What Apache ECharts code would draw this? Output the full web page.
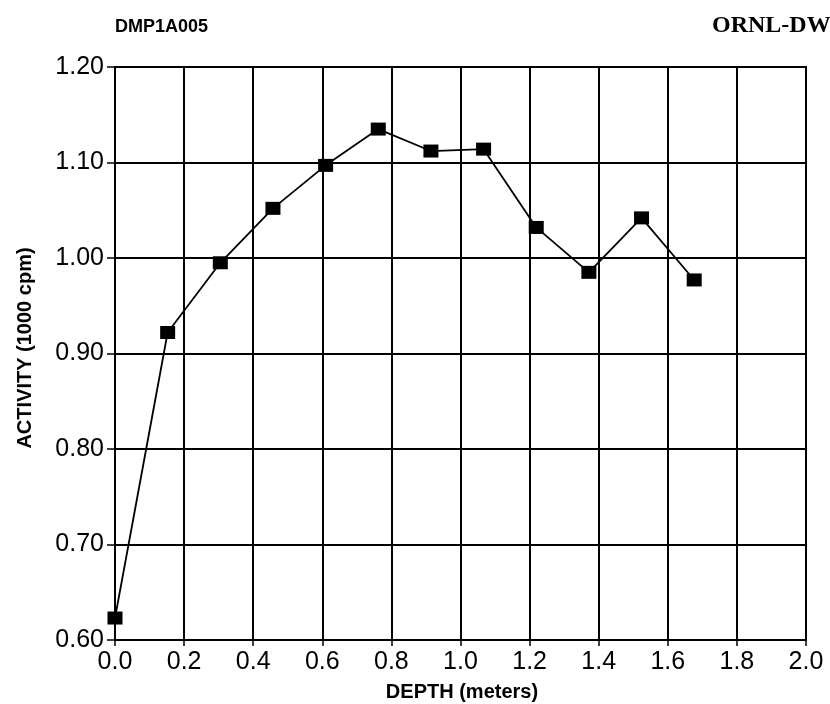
<!DOCTYPE html>
<html>
<head>
<meta charset="utf-8">
<title>Activity vs depth</title>
<script src="https://cdn.jsdelivr.net/npm/echarts@6/dist/echarts.min.js"></script>
<style>
  html, body { margin: 0; padding: 0; background: #ffffff; }
  #chart { width: 830px; height: 704px; }
</style>
</head>
<body>
<div id="chart"></div>
<script>
// Borehole log: measured activity at half-foot depth steps
const depthMeters = [0, 0.1524, 0.3048, 0.4572, 0.6096, 0.762, 0.9144, 1.0668, 1.2192, 1.3716, 1.524, 1.6764];
const activityKcpm = [0.623, 0.922, 0.995, 1.052, 1.097, 1.135, 1.112, 1.114, 1.032, 0.985, 1.042, 0.977];

const xTickLabels = ['0.0', '0.2', '0.4', '0.6', '0.8', '1.0', '1.2', '1.4', '1.6', '1.8', '2.0'];
const yTickLabels = ['0.60', '0.70', '0.80', '0.90', '1.00', '1.10', '1.20'];

const sheetId = 'DMP1A005';
const drawingId = 'ORNL-DWG';
const xTitle = 'DEPTH (meters)';
const yTitle = 'ACTIVITY (1000 cpm)';

const points = depthMeters.map((d, i) => [d, activityKcpm[i]]);

const chart = echarts.init(document.getElementById('chart'), null, { renderer: 'canvas' });

const ink = '#000000';
const sans = '"Liberation Sans", Arial, Helvetica, sans-serif';

chart.setOption({
  animation: false,
  backgroundColor: '#ffffff',
  grid: {
    left: 115, right: 24, top: 67, bottom: 64,
    show: true, borderColor: ink, borderWidth: 2, backgroundColor: 'transparent'
  },
  xAxis: {
    type: 'value',
    min: 0, max: 2, interval: 0.2,
    axisLine: { show: true, lineStyle: { color: ink, width: 2 } },
    axisTick: { show: true, length: 6, inside: false, lineStyle: { color: ink, width: 1.5 } },
    splitLine: { show: true, lineStyle: { color: ink, width: 2 } },
    axisLabel: {
      color: ink, fontFamily: sans, fontSize: 25, margin: 10,
      formatter: (v) => xTickLabels[Math.round(v / 0.2)]
    }
  },
  yAxis: {
    type: 'value',
    min: 0.6, max: 1.2, interval: 0.1,
    axisLine: { show: true, lineStyle: { color: ink, width: 2 } },
    axisTick: { show: true, length: 8, inside: false, lineStyle: { color: ink, width: 1.5 } },
    splitLine: { show: true, lineStyle: { color: ink, width: 2 } },
    axisLabel: {
      color: ink, fontFamily: sans, fontSize: 25, margin: 11,
      formatter: (v) => yTickLabels[Math.round((v - 0.6) / 0.1)]
    }
  },
  series: [{
    type: 'line',
    data: points,
    symbol: 'rect',
    symbolSize: [15, 13],
    lineStyle: { color: ink, width: 1.8 },
    itemStyle: { color: ink },
    z: 5
  }],
  graphic: [
    {
      type: 'text', left: 115, top: 18,
      style: { text: sheetId, fill: ink, font: 'bold 18px ' + sans }
    },
    {
      type: 'text', left: 712, top: 14,
      style: { text: drawingId, fill: ink, font: 'bold 24px "Liberation Serif", "Times New Roman", serif' }
    },
    {
      type: 'text', x: 462, y: 692,
      style: { text: xTitle, fill: ink, font: 'bold 20px ' + sans, textAlign: 'center', textVerticalAlign: 'middle' }
    },
    {
      type: 'text', x: 25, y: 348, rotation: Math.PI / 2,
      style: { text: yTitle, fill: ink, font: 'bold 20px ' + sans, textAlign: 'center', textVerticalAlign: 'middle' }
    }
  ]
});
</script>
</body>
</html>
